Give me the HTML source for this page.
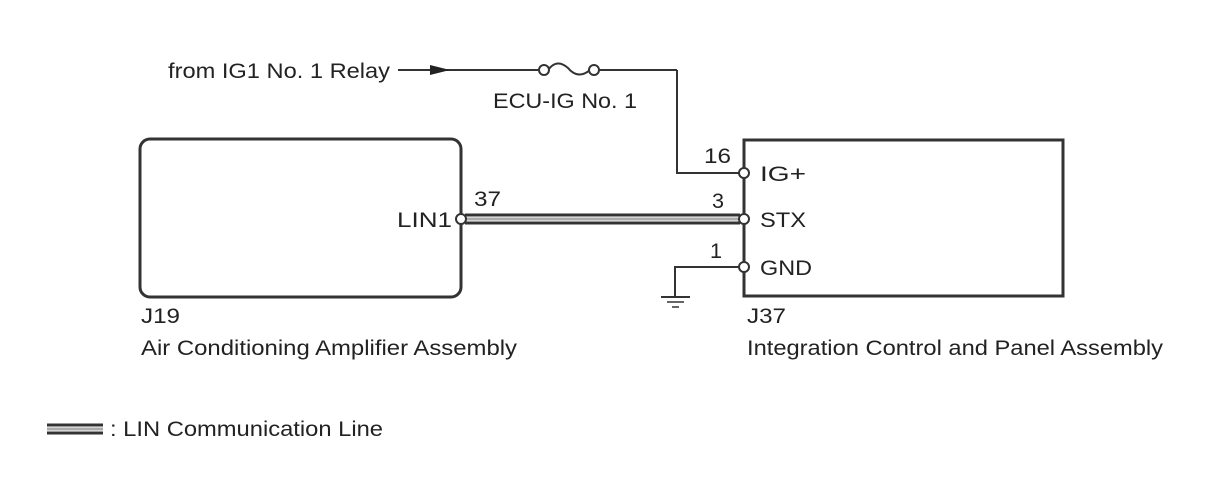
<!DOCTYPE html>
<html><head><style>
body{margin:0;background:#fff;width:1210px;height:474px;overflow:hidden}
svg text{font-family:"Liberation Sans",Arial,sans-serif;font-size:21px;fill:#222}
</style></head><body>
<svg width="1210" height="474" viewBox="0 0 1210 474">
<g stroke="#333" fill="none">
<rect x="140" y="139" width="321" height="158" rx="10" stroke-width="3"/>
<rect x="744" y="140" width="319" height="156" stroke-width="3"/>
<line x1="398" y1="70" x2="540" y2="70" stroke-width="2"/>
<path d="M548 70 Q557 58 568 68 Q578 80 590 70" stroke-width="2"/>
<line x1="598" y1="70" x2="677" y2="70" stroke-width="2"/>
<polyline points="677,70 677,173 740,173" stroke-width="2"/>
<polyline points="740,267 675,267 675,296" stroke-width="2"/>
<line x1="661" y1="297" x2="690" y2="297" stroke-width="2"/>
<line x1="667" y1="302" x2="684" y2="302" stroke-width="1.5"/>
<line x1="672" y1="307" x2="679" y2="307" stroke-width="1.5"/>
<line x1="465" y1="215" x2="740" y2="215" stroke-width="3"/>
<line x1="465" y1="223" x2="740" y2="223" stroke-width="3"/>
<line x1="465" y1="219" x2="740" y2="219" stroke="#aaa" stroke-width="3"/>
<line x1="47" y1="425" x2="103" y2="425" stroke-width="3"/>
<line x1="47" y1="433" x2="103" y2="433" stroke-width="3"/>
<line x1="47" y1="429" x2="103" y2="429" stroke="#aaa" stroke-width="3"/>
</g>
<polygon points="430,65 450,70 430,75" fill="#222"/>
<g fill="#fff" stroke="#333" stroke-width="2">
<circle cx="544" cy="70" r="5"/><circle cx="594" cy="70" r="5"/>
<circle cx="461" cy="219" r="5"/>
<circle cx="744" cy="173" r="5"/><circle cx="744" cy="219" r="5"/><circle cx="744" cy="267" r="5"/>
</g>
<g lengthAdjust="spacingAndGlyphs">
<text x="168" y="78" textLength="222" lengthAdjust="spacingAndGlyphs">from IG1 No. 1 Relay</text>
<text x="493" y="108" textLength="144" lengthAdjust="spacingAndGlyphs">ECU-IG No. 1</text>
<text x="704" y="163" textLength="27" lengthAdjust="spacingAndGlyphs">16</text>
<text x="760" y="181" textLength="46" lengthAdjust="spacingAndGlyphs">IG+</text>
<text x="474" y="206" textLength="27" lengthAdjust="spacingAndGlyphs">37</text>
<text x="712" y="208" textLength="12" lengthAdjust="spacingAndGlyphs">3</text>
<text x="397" y="227" textLength="55" lengthAdjust="spacingAndGlyphs">LIN1</text>
<text x="760" y="227" textLength="46" lengthAdjust="spacingAndGlyphs">STX</text>
<text x="710" y="258" textLength="12" lengthAdjust="spacingAndGlyphs">1</text>
<text x="760" y="275" textLength="52" lengthAdjust="spacingAndGlyphs">GND</text>
<text x="141" y="323" textLength="39" lengthAdjust="spacingAndGlyphs">J19</text>
<text x="141" y="355" textLength="376" lengthAdjust="spacingAndGlyphs">Air Conditioning Amplifier Assembly</text>
<text x="747" y="323" textLength="39" lengthAdjust="spacingAndGlyphs">J37</text>
<text x="747" y="355" textLength="416" lengthAdjust="spacingAndGlyphs">Integration Control and Panel Assembly</text>
<text x="110" y="436" textLength="273" lengthAdjust="spacingAndGlyphs">: LIN Communication Line</text>
</g>
</svg>
</body></html>
